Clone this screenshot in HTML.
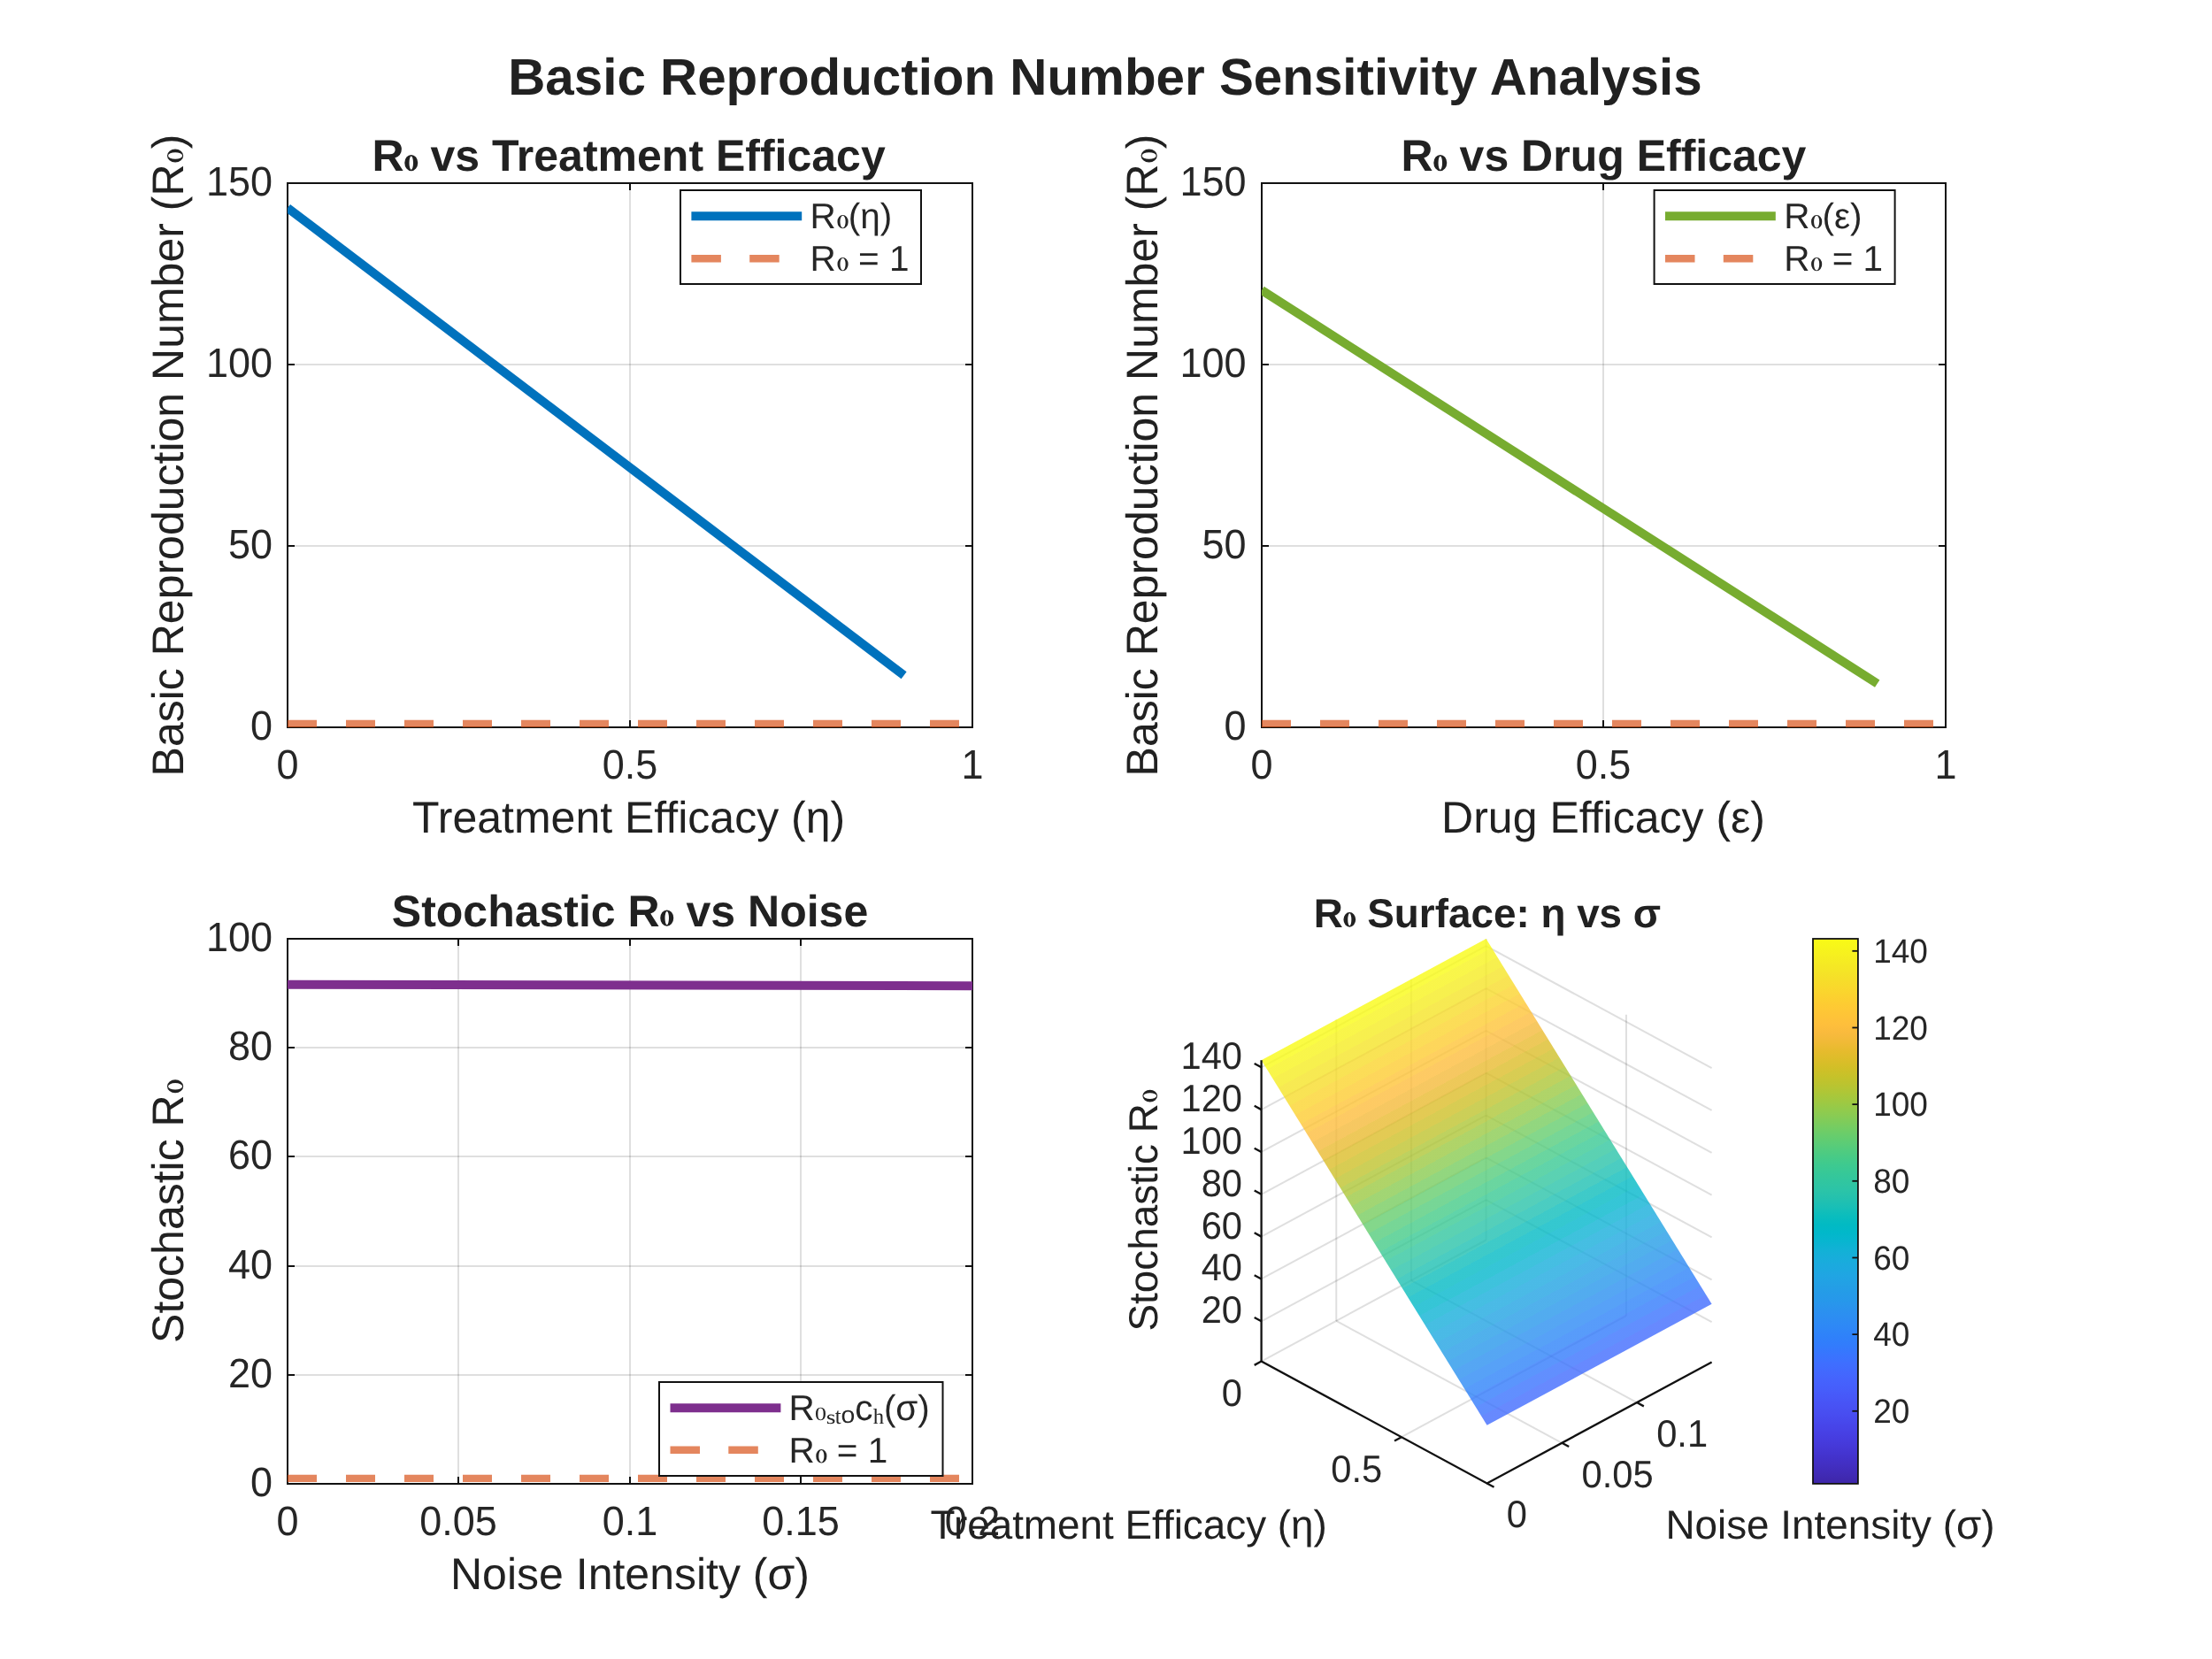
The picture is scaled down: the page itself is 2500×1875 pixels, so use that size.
<!DOCTYPE html>
<html><head><meta charset="utf-8"><title>Basic Reproduction Number Sensitivity Analysis</title>
<style>html,body{margin:0;padding:0;background:#fff}svg{display:block;will-change:transform}</style></head>
<body>
<svg width="2500" height="1875" viewBox="0 0 2500 1875" font-family="'Liberation Sans', sans-serif" text-rendering="geometricPrecision">
<rect width="2500" height="1875" fill="#fff"/>
<defs>
<clipPath id="c1"><rect x="325" y="207" width="774" height="615"/></clipPath>
<clipPath id="c2"><rect x="1426" y="207" width="773" height="615"/></clipPath>
<clipPath id="c3"><rect x="325" y="1061" width="774" height="616"/></clipPath>
<linearGradient id="cb" x1="0" y1="0" x2="0" y2="1"><stop offset="0.0000" stop-color="#f9fb15"/><stop offset="0.0159" stop-color="#f7f51b"/><stop offset="0.0317" stop-color="#f6ef20"/><stop offset="0.0476" stop-color="#f5e924"/><stop offset="0.0635" stop-color="#f5e327"/><stop offset="0.0794" stop-color="#f7dc2a"/><stop offset="0.0952" stop-color="#fad62d"/><stop offset="0.1111" stop-color="#fccf30"/><stop offset="0.1270" stop-color="#fec934"/><stop offset="0.1429" stop-color="#fec338"/><stop offset="0.1587" stop-color="#febe3c"/><stop offset="0.1746" stop-color="#f8ba3d"/><stop offset="0.1905" stop-color="#f0ba36"/><stop offset="0.2063" stop-color="#e6bb2d"/><stop offset="0.2222" stop-color="#dcbd29"/><stop offset="0.2381" stop-color="#d1bf27"/><stop offset="0.2540" stop-color="#c5c22a"/><stop offset="0.2698" stop-color="#b9c431"/><stop offset="0.2857" stop-color="#abc739"/><stop offset="0.3016" stop-color="#9dc943"/><stop offset="0.3175" stop-color="#8fcb4e"/><stop offset="0.3333" stop-color="#81cc59"/><stop offset="0.3492" stop-color="#72cd64"/><stop offset="0.3651" stop-color="#64cd6f"/><stop offset="0.3810" stop-color="#57cc7a"/><stop offset="0.3968" stop-color="#4acb84"/><stop offset="0.4127" stop-color="#3fca8e"/><stop offset="0.4286" stop-color="#37c897"/><stop offset="0.4444" stop-color="#31c69f"/><stop offset="0.4603" stop-color="#2cc4a7"/><stop offset="0.4762" stop-color="#24c1ae"/><stop offset="0.4921" stop-color="#19bfb6"/><stop offset="0.5079" stop-color="#0bbdbd"/><stop offset="0.5238" stop-color="#02bac3"/><stop offset="0.5397" stop-color="#01b8ca"/><stop offset="0.5556" stop-color="#08b5d0"/><stop offset="0.5714" stop-color="#12b1d6"/><stop offset="0.5873" stop-color="#18addb"/><stop offset="0.6032" stop-color="#1ca9df"/><stop offset="0.6190" stop-color="#20a5e3"/><stop offset="0.6349" stop-color="#23a0e5"/><stop offset="0.6508" stop-color="#259be8"/><stop offset="0.6667" stop-color="#2797eb"/><stop offset="0.6825" stop-color="#2b91ef"/><stop offset="0.6984" stop-color="#2d8cf3"/><stop offset="0.7143" stop-color="#2e87f7"/><stop offset="0.7302" stop-color="#2f81fa"/><stop offset="0.7460" stop-color="#327cfc"/><stop offset="0.7619" stop-color="#3875fe"/><stop offset="0.7778" stop-color="#3e6fff"/><stop offset="0.7937" stop-color="#4269fe"/><stop offset="0.8095" stop-color="#4563fd"/><stop offset="0.8254" stop-color="#465efb"/><stop offset="0.8413" stop-color="#4758f8"/><stop offset="0.8571" stop-color="#4852f4"/><stop offset="0.8730" stop-color="#484df0"/><stop offset="0.8889" stop-color="#4747eb"/><stop offset="0.9048" stop-color="#4741e5"/><stop offset="0.9206" stop-color="#463cde"/><stop offset="0.9365" stop-color="#4537d5"/><stop offset="0.9524" stop-color="#4332cb"/><stop offset="0.9683" stop-color="#422ec0"/><stop offset="0.9841" stop-color="#402ab4"/><stop offset="1.0000" stop-color="#3e26a8"/></linearGradient>
</defs>
<g transform="translate(1250.00,107.00)"><text x="-675.84" y="0" font-size="58.33" font-weight="bold" fill="#212121" xml:space="preserve">Basic Reproduction Number Sensitivity Analysis</text></g>
<rect x="325" y="207" width="774" height="615" fill="#fff"/>
<line x1="712.00" y1="207.00" x2="712.00" y2="822.00" stroke="#262626" stroke-width="2" stroke-opacity="0.15"/>
<line x1="325.00" y1="617.00" x2="1099.00" y2="617.00" stroke="#262626" stroke-width="2" stroke-opacity="0.15"/>
<line x1="325.00" y1="412.00" x2="1099.00" y2="412.00" stroke="#262626" stroke-width="2" stroke-opacity="0.15"/>
<rect x="325" y="207" width="774" height="615" fill="none" stroke="#111111" stroke-width="2"/>
<line x1="712.00" y1="822.00" x2="712.00" y2="814.00" stroke="#111111" stroke-width="2"/>
<line x1="712.00" y1="207.00" x2="712.00" y2="215.00" stroke="#111111" stroke-width="2"/>
<line x1="325.00" y1="617.00" x2="333.00" y2="617.00" stroke="#111111" stroke-width="2"/>
<line x1="1099.00" y1="617.00" x2="1091.00" y2="617.00" stroke="#111111" stroke-width="2"/>
<line x1="325.00" y1="412.00" x2="333.00" y2="412.00" stroke="#111111" stroke-width="2"/>
<line x1="1099.00" y1="412.00" x2="1091.00" y2="412.00" stroke="#111111" stroke-width="2"/>
<line x1="325.00" y1="234.88" x2="1021.60" y2="763.29" stroke="#0072bd" stroke-width="10" clip-path="url(#c1)"/>
<line x1="325" y1="817.90" x2="1099" y2="817.90" stroke="#d95319" stroke-width="8.4" stroke-opacity="0.7" stroke-dasharray="33 33" clip-path="url(#c1)"/>
<g transform="translate(325.00,879.60) scale(1,1.035)"><text x="-12.51" y="0" font-size="45.00" fill="#262626" xml:space="preserve">0</text></g>
<g transform="translate(712.00,879.60) scale(1,1.035)"><text x="-31.28" y="0" font-size="45.00" fill="#262626" xml:space="preserve">0.5</text></g>
<g transform="translate(1099.00,879.60) scale(1,1.035)"><text x="-12.51" y="0" font-size="45.00" fill="#262626" xml:space="preserve">1</text></g>
<g transform="translate(308.00,836.40) scale(1,1.035)"><text x="-25.03" y="0" font-size="45.00" fill="#262626" xml:space="preserve">0</text></g>
<g transform="translate(308.00,631.40) scale(1,1.035)"><text x="-50.05" y="0" font-size="45.00" fill="#262626" xml:space="preserve">50</text></g>
<g transform="translate(308.00,426.40) scale(1,1.035)"><text x="-75.08" y="0" font-size="45.00" fill="#262626" xml:space="preserve">100</text></g>
<g transform="translate(308.00,221.40) scale(1,1.035)"><text x="-75.08" y="0" font-size="45.00" fill="#262626" xml:space="preserve">150</text></g>
<g transform="translate(712.00,941.00)"><text x="-245.90" y="0" font-size="50.00" fill="#212121" xml:space="preserve">Treatment Efficacy (η)</text></g>
<g transform="translate(207.00,514.50) rotate(-90)"><text x="-362.92" y="0" font-size="50.00" fill="#212121" xml:space="preserve">Basic Reproduction Number (R</text><path d="M331.02,-8.93A7.50,9.12 0 1,1 346.02,-8.93A7.50,9.12 0 1,1 331.02,-8.93ZM334.77,-8.93A3.75,8.03 0 1,0 342.27,-8.93A3.75,8.03 0 1,0 334.77,-8.93Z" fill="#212121"/><text x="346.27" y="0" font-size="50.00" fill="#212121" xml:space="preserve">)</text></g>
<g transform="translate(712.00,193.00)"><text x="-291.45" y="0" font-size="50.00" font-weight="bold" fill="#212121" xml:space="preserve">R</text><path d="M-254.74,-8.93A7.50,9.12 0 1,1 -239.74,-8.93A7.50,9.12 0 1,1 -254.74,-8.93ZM-249.49,-8.93A2.25,7.62 0 1,0 -244.99,-8.93A2.25,7.62 0 1,0 -249.49,-8.93Z" fill="#212121"/><text x="-239.34" y="0" font-size="50.00" font-weight="bold" fill="#212121" xml:space="preserve"> vs Treatment Efficacy</text></g>
<rect x="769" y="215" width="272" height="106" fill="#fff" stroke="#111111" stroke-width="2"/>
<line x1="781.40" y1="244.20" x2="906.20" y2="244.20" stroke="#0072bd" stroke-width="10.0"/>
<g transform="translate(915.60,257.80)"><text x="0.00" y="0" font-size="40.50" fill="#262626" xml:space="preserve">R</text><path d="M30.87,-7.23A6.08,7.39 0 1,1 43.02,-7.23A6.08,7.39 0 1,1 30.87,-7.23ZM33.91,-7.23A3.04,6.50 0 1,0 39.98,-7.23A3.04,6.50 0 1,0 33.91,-7.23Z" fill="#262626"/><text x="43.22" y="0" font-size="40.50" fill="#262626" xml:space="preserve">(η)</text></g>
<line x1="781.4" y1="292.2" x2="906.2" y2="292.2" stroke="#d95319" stroke-width="8.4" stroke-opacity="0.7" stroke-dasharray="33.5 32.3"/>
<g transform="translate(915.60,305.80)"><text x="0.00" y="0" font-size="40.50" fill="#262626" xml:space="preserve">R</text><path d="M30.87,-7.23A6.08,7.39 0 1,1 43.02,-7.23A6.08,7.39 0 1,1 30.87,-7.23ZM33.91,-7.23A3.04,6.50 0 1,0 39.98,-7.23A3.04,6.50 0 1,0 33.91,-7.23Z" fill="#262626"/><text x="43.22" y="0" font-size="40.50" fill="#262626" xml:space="preserve"> = 1</text></g>
<rect x="1426" y="207" width="773" height="615" fill="#fff"/>
<line x1="1812.00" y1="207.00" x2="1812.00" y2="822.00" stroke="#262626" stroke-width="2" stroke-opacity="0.15"/>
<line x1="1426.00" y1="617.00" x2="2199.00" y2="617.00" stroke="#262626" stroke-width="2" stroke-opacity="0.15"/>
<line x1="1426.00" y1="412.00" x2="2199.00" y2="412.00" stroke="#262626" stroke-width="2" stroke-opacity="0.15"/>
<rect x="1426" y="207" width="773" height="615" fill="none" stroke="#111111" stroke-width="2"/>
<line x1="1812.00" y1="822.00" x2="1812.00" y2="814.00" stroke="#111111" stroke-width="2"/>
<line x1="1812.00" y1="207.00" x2="1812.00" y2="215.00" stroke="#111111" stroke-width="2"/>
<line x1="1426.00" y1="617.00" x2="1434.00" y2="617.00" stroke="#111111" stroke-width="2"/>
<line x1="2199.00" y1="617.00" x2="2191.00" y2="617.00" stroke="#111111" stroke-width="2"/>
<line x1="1426.00" y1="412.00" x2="1434.00" y2="412.00" stroke="#111111" stroke-width="2"/>
<line x1="2199.00" y1="412.00" x2="2191.00" y2="412.00" stroke="#111111" stroke-width="2"/>
<line x1="1426.00" y1="327.95" x2="2121.70" y2="772.60" stroke="#77ac30" stroke-width="10" clip-path="url(#c2)"/>
<line x1="1426" y1="817.90" x2="2199" y2="817.90" stroke="#d95319" stroke-width="8.4" stroke-opacity="0.7" stroke-dasharray="33 33" clip-path="url(#c2)"/>
<g transform="translate(1426.00,879.60) scale(1,1.035)"><text x="-12.51" y="0" font-size="45.00" fill="#262626" xml:space="preserve">0</text></g>
<g transform="translate(1812.00,879.60) scale(1,1.035)"><text x="-31.28" y="0" font-size="45.00" fill="#262626" xml:space="preserve">0.5</text></g>
<g transform="translate(2199.00,879.60) scale(1,1.035)"><text x="-12.51" y="0" font-size="45.00" fill="#262626" xml:space="preserve">1</text></g>
<g transform="translate(1408.60,836.40) scale(1,1.035)"><text x="-25.03" y="0" font-size="45.00" fill="#262626" xml:space="preserve">0</text></g>
<g transform="translate(1408.60,631.40) scale(1,1.035)"><text x="-50.05" y="0" font-size="45.00" fill="#262626" xml:space="preserve">50</text></g>
<g transform="translate(1408.60,426.40) scale(1,1.035)"><text x="-75.08" y="0" font-size="45.00" fill="#262626" xml:space="preserve">100</text></g>
<g transform="translate(1408.60,221.40) scale(1,1.035)"><text x="-75.08" y="0" font-size="45.00" fill="#262626" xml:space="preserve">150</text></g>
<g transform="translate(1812.50,941.00)"><text x="-183.40" y="0" font-size="50.00" fill="#212121" xml:space="preserve">Drug Efficacy (ε)</text></g>
<g transform="translate(1307.60,514.50) rotate(-90)"><text x="-362.92" y="0" font-size="50.00" fill="#212121" xml:space="preserve">Basic Reproduction Number (R</text><path d="M331.02,-8.93A7.50,9.12 0 1,1 346.02,-8.93A7.50,9.12 0 1,1 331.02,-8.93ZM334.77,-8.93A3.75,8.03 0 1,0 342.27,-8.93A3.75,8.03 0 1,0 334.77,-8.93Z" fill="#212121"/><text x="346.27" y="0" font-size="50.00" fill="#212121" xml:space="preserve">)</text></g>
<g transform="translate(1812.50,193.00)"><text x="-228.91" y="0" font-size="50.00" font-weight="bold" fill="#212121" xml:space="preserve">R</text><path d="M-192.20,-8.93A7.50,9.12 0 1,1 -177.20,-8.93A7.50,9.12 0 1,1 -192.20,-8.93ZM-186.95,-8.93A2.25,7.62 0 1,0 -182.45,-8.93A2.25,7.62 0 1,0 -186.95,-8.93Z" fill="#212121"/><text x="-176.80" y="0" font-size="50.00" font-weight="bold" fill="#212121" xml:space="preserve"> vs Drug Efficacy</text></g>
<rect x="1869.6" y="215" width="272.0" height="106" fill="#fff" stroke="#111111" stroke-width="2"/>
<line x1="1882.00" y1="244.20" x2="2006.80" y2="244.20" stroke="#77ac30" stroke-width="10.0"/>
<g transform="translate(2016.20,257.80)"><text x="0.00" y="0" font-size="40.50" fill="#262626" xml:space="preserve">R</text><path d="M30.87,-7.23A6.08,7.39 0 1,1 43.02,-7.23A6.08,7.39 0 1,1 30.87,-7.23ZM33.91,-7.23A3.04,6.50 0 1,0 39.98,-7.23A3.04,6.50 0 1,0 33.91,-7.23Z" fill="#262626"/><text x="43.22" y="0" font-size="40.50" fill="#262626" xml:space="preserve">(ε)</text></g>
<line x1="1882.0" y1="292.2" x2="2006.8" y2="292.2" stroke="#d95319" stroke-width="8.4" stroke-opacity="0.7" stroke-dasharray="33.5 32.3"/>
<g transform="translate(2016.20,305.80)"><text x="0.00" y="0" font-size="40.50" fill="#262626" xml:space="preserve">R</text><path d="M30.87,-7.23A6.08,7.39 0 1,1 43.02,-7.23A6.08,7.39 0 1,1 30.87,-7.23ZM33.91,-7.23A3.04,6.50 0 1,0 39.98,-7.23A3.04,6.50 0 1,0 33.91,-7.23Z" fill="#262626"/><text x="43.22" y="0" font-size="40.50" fill="#262626" xml:space="preserve"> = 1</text></g>
<rect x="325" y="1061" width="774" height="616" fill="#fff"/>
<line x1="518.00" y1="1061.00" x2="518.00" y2="1677.00" stroke="#262626" stroke-width="2" stroke-opacity="0.15"/>
<line x1="712.00" y1="1061.00" x2="712.00" y2="1677.00" stroke="#262626" stroke-width="2" stroke-opacity="0.15"/>
<line x1="905.00" y1="1061.00" x2="905.00" y2="1677.00" stroke="#262626" stroke-width="2" stroke-opacity="0.15"/>
<line x1="325.00" y1="1554.00" x2="1099.00" y2="1554.00" stroke="#262626" stroke-width="2" stroke-opacity="0.15"/>
<line x1="325.00" y1="1431.00" x2="1099.00" y2="1431.00" stroke="#262626" stroke-width="2" stroke-opacity="0.15"/>
<line x1="325.00" y1="1307.00" x2="1099.00" y2="1307.00" stroke="#262626" stroke-width="2" stroke-opacity="0.15"/>
<line x1="325.00" y1="1184.00" x2="1099.00" y2="1184.00" stroke="#262626" stroke-width="2" stroke-opacity="0.15"/>
<rect x="325" y="1061" width="774" height="616" fill="none" stroke="#111111" stroke-width="2"/>
<line x1="518.00" y1="1677.00" x2="518.00" y2="1669.00" stroke="#111111" stroke-width="2"/>
<line x1="518.00" y1="1061.00" x2="518.00" y2="1069.00" stroke="#111111" stroke-width="2"/>
<line x1="712.00" y1="1677.00" x2="712.00" y2="1669.00" stroke="#111111" stroke-width="2"/>
<line x1="712.00" y1="1061.00" x2="712.00" y2="1069.00" stroke="#111111" stroke-width="2"/>
<line x1="905.00" y1="1677.00" x2="905.00" y2="1669.00" stroke="#111111" stroke-width="2"/>
<line x1="905.00" y1="1061.00" x2="905.00" y2="1069.00" stroke="#111111" stroke-width="2"/>
<line x1="325.00" y1="1554.00" x2="333.00" y2="1554.00" stroke="#111111" stroke-width="2"/>
<line x1="1099.00" y1="1554.00" x2="1091.00" y2="1554.00" stroke="#111111" stroke-width="2"/>
<line x1="325.00" y1="1431.00" x2="333.00" y2="1431.00" stroke="#111111" stroke-width="2"/>
<line x1="1099.00" y1="1431.00" x2="1091.00" y2="1431.00" stroke="#111111" stroke-width="2"/>
<line x1="325.00" y1="1307.00" x2="333.00" y2="1307.00" stroke="#111111" stroke-width="2"/>
<line x1="1099.00" y1="1307.00" x2="1091.00" y2="1307.00" stroke="#111111" stroke-width="2"/>
<line x1="325.00" y1="1184.00" x2="333.00" y2="1184.00" stroke="#111111" stroke-width="2"/>
<line x1="1099.00" y1="1184.00" x2="1091.00" y2="1184.00" stroke="#111111" stroke-width="2"/>
<line x1="325.00" y1="1112.74" x2="1099.00" y2="1114.28" stroke="#7e2f8e" stroke-width="10" clip-path="url(#c3)"/>
<line x1="325" y1="1670.84" x2="1099" y2="1670.84" stroke="#d95319" stroke-width="8.4" stroke-opacity="0.7" stroke-dasharray="33 33" clip-path="url(#c3)"/>
<g transform="translate(325.00,1735.00) scale(1,1.035)"><text x="-12.51" y="0" font-size="45.00" fill="#262626" xml:space="preserve">0</text></g>
<g transform="translate(518.00,1735.00) scale(1,1.035)"><text x="-43.79" y="0" font-size="45.00" fill="#262626" xml:space="preserve">0.05</text></g>
<g transform="translate(712.00,1735.00) scale(1,1.035)"><text x="-31.28" y="0" font-size="45.00" fill="#262626" xml:space="preserve">0.1</text></g>
<g transform="translate(905.00,1735.00) scale(1,1.035)"><text x="-43.79" y="0" font-size="45.00" fill="#262626" xml:space="preserve">0.15</text></g>
<g transform="translate(1099.00,1735.00) scale(1,1.035)"><text x="-31.28" y="0" font-size="45.00" fill="#262626" xml:space="preserve">0.2</text></g>
<g transform="translate(308.00,1691.40) scale(1,1.035)"><text x="-25.03" y="0" font-size="45.00" fill="#262626" xml:space="preserve">0</text></g>
<g transform="translate(308.00,1568.40) scale(1,1.035)"><text x="-50.05" y="0" font-size="45.00" fill="#262626" xml:space="preserve">20</text></g>
<g transform="translate(308.00,1445.40) scale(1,1.035)"><text x="-50.05" y="0" font-size="45.00" fill="#262626" xml:space="preserve">40</text></g>
<g transform="translate(308.00,1321.40) scale(1,1.035)"><text x="-50.05" y="0" font-size="45.00" fill="#262626" xml:space="preserve">60</text></g>
<g transform="translate(308.00,1198.40) scale(1,1.035)"><text x="-50.05" y="0" font-size="45.00" fill="#262626" xml:space="preserve">80</text></g>
<g transform="translate(308.00,1075.40) scale(1,1.035)"><text x="-75.08" y="0" font-size="45.00" fill="#262626" xml:space="preserve">100</text></g>
<g transform="translate(712.00,1796.00)"><text x="-202.99" y="0" font-size="50.00" fill="#212121" xml:space="preserve">Noise Intensity (σ)</text></g>
<g transform="translate(207.00,1369.00) rotate(-90)"><text x="-148.96" y="0" font-size="50.00" fill="#212121" xml:space="preserve">Stochastic R</text><path d="M133.71,-8.93A7.50,9.12 0 1,1 148.71,-8.93A7.50,9.12 0 1,1 133.71,-8.93ZM137.46,-8.93A3.75,8.03 0 1,0 144.96,-8.93A3.75,8.03 0 1,0 137.46,-8.93Z" fill="#212121"/></g>
<g transform="translate(712.00,1046.50)"><text x="-269.21" y="0" font-size="50.00" font-weight="bold" fill="#212121" xml:space="preserve">Stochastic R</text><path d="M34.25,-8.93A7.50,9.12 0 1,1 49.25,-8.93A7.50,9.12 0 1,1 34.25,-8.93ZM39.50,-8.93A2.25,7.62 0 1,0 44.00,-8.93A2.25,7.62 0 1,0 39.50,-8.93Z" fill="#212121"/><text x="49.65" y="0" font-size="50.00" font-weight="bold" fill="#212121" xml:space="preserve"> vs Noise</text></g>
<rect x="745" y="1562" width="320.5" height="106" fill="#fff" stroke="#111111" stroke-width="2"/>
<line x1="757.50" y1="1591.30" x2="882.40" y2="1591.30" stroke="#7e2f8e" stroke-width="10.0"/>
<text x="891.40" y="1605.1" font-size="40.5" fill="#262626">R</text><text transform="translate(921.01,1604.99) scale(0.2595,0.2149)" font-size="100.0" font-family="'Liberation Serif', serif" fill="#262626">0</text><text transform="translate(933.87,1608.88) scale(0.2756,0.2204)" font-size="100.0" font-family="'Liberation Serif', serif" fill="#262626">s</text><text transform="translate(943.76,1608.84) scale(0.2479,0.2636)" font-size="100.0" font-family="'Liberation Serif', serif" fill="#262626">t</text><text transform="translate(950.51,1607.54) scale(0.2838,0.2665)" font-size="100.0" font-family="'Liberation Sans', serif" fill="#262626">o</text><text x="966.30" y="1605.1" font-size="40.5" fill="#262626">c</text><text transform="translate(986.86,1609.10) scale(0.2474,0.2465)" font-size="100.0" font-family="'Liberation Serif', serif" fill="#262626">h</text><text x="998.89" y="1605.1" font-size="40.5" fill="#262626">(σ)</text>
<line x1="757.5" y1="1638.8" x2="882.4" y2="1638.8" stroke="#d95319" stroke-width="8.4" stroke-opacity="0.7" stroke-dasharray="33.5 32.3"/>
<g transform="translate(891.40,1653.00)"><text x="0.00" y="0" font-size="40.50" fill="#262626" xml:space="preserve">R</text><path d="M30.87,-7.23A6.08,7.39 0 1,1 43.02,-7.23A6.08,7.39 0 1,1 30.87,-7.23ZM33.91,-7.23A3.04,6.50 0 1,0 39.98,-7.23A3.04,6.50 0 1,0 33.91,-7.23Z" fill="#262626"/><text x="43.22" y="0" font-size="40.50" fill="#262626" xml:space="preserve"> = 1</text></g>
<line x1="1425.60" y1="1493.30" x2="1679.60" y2="1356.20" stroke="#262626" stroke-width="2" stroke-opacity="0.15"/>
<line x1="1679.60" y1="1356.20" x2="1934.60" y2="1494.10" stroke="#262626" stroke-width="2" stroke-opacity="0.15"/>
<line x1="1425.60" y1="1445.47" x2="1679.60" y2="1308.37" stroke="#262626" stroke-width="2" stroke-opacity="0.15"/>
<line x1="1679.60" y1="1308.37" x2="1934.60" y2="1446.27" stroke="#262626" stroke-width="2" stroke-opacity="0.15"/>
<line x1="1425.60" y1="1397.63" x2="1679.60" y2="1260.53" stroke="#262626" stroke-width="2" stroke-opacity="0.15"/>
<line x1="1679.60" y1="1260.53" x2="1934.60" y2="1398.43" stroke="#262626" stroke-width="2" stroke-opacity="0.15"/>
<line x1="1425.60" y1="1349.80" x2="1679.60" y2="1212.70" stroke="#262626" stroke-width="2" stroke-opacity="0.15"/>
<line x1="1679.60" y1="1212.70" x2="1934.60" y2="1350.60" stroke="#262626" stroke-width="2" stroke-opacity="0.15"/>
<line x1="1425.60" y1="1301.97" x2="1679.60" y2="1164.87" stroke="#262626" stroke-width="2" stroke-opacity="0.15"/>
<line x1="1679.60" y1="1164.87" x2="1934.60" y2="1302.77" stroke="#262626" stroke-width="2" stroke-opacity="0.15"/>
<line x1="1425.60" y1="1254.13" x2="1679.60" y2="1117.03" stroke="#262626" stroke-width="2" stroke-opacity="0.15"/>
<line x1="1679.60" y1="1117.03" x2="1934.60" y2="1254.93" stroke="#262626" stroke-width="2" stroke-opacity="0.15"/>
<line x1="1425.60" y1="1206.30" x2="1679.60" y2="1069.20" stroke="#262626" stroke-width="2" stroke-opacity="0.15"/>
<line x1="1679.60" y1="1069.20" x2="1934.60" y2="1207.10" stroke="#262626" stroke-width="2" stroke-opacity="0.15"/>
<line x1="1510.27" y1="1492.90" x2="1510.27" y2="1152.47" stroke="#262626" stroke-width="2" stroke-opacity="0.15"/>
<line x1="1594.93" y1="1447.20" x2="1594.93" y2="1106.77" stroke="#262626" stroke-width="2" stroke-opacity="0.15"/>
<line x1="1679.60" y1="1401.50" x2="1679.60" y2="1061.07" stroke="#262626" stroke-width="2" stroke-opacity="0.15"/>
<line x1="1837.95" y1="1487.14" x2="1837.95" y2="1146.70" stroke="#262626" stroke-width="2" stroke-opacity="0.15"/>
<line x1="1425.60" y1="1538.60" x2="1679.60" y2="1401.50" stroke="#262626" stroke-width="2" stroke-opacity="0.15"/>
<line x1="1583.95" y1="1624.24" x2="1837.95" y2="1487.14" stroke="#262626" stroke-width="2" stroke-opacity="0.15"/>
<line x1="1510.27" y1="1492.90" x2="1765.27" y2="1630.80" stroke="#262626" stroke-width="2" stroke-opacity="0.15"/>
<line x1="1594.93" y1="1447.20" x2="1849.93" y2="1585.10" stroke="#262626" stroke-width="2" stroke-opacity="0.15"/>
<defs><linearGradient id="sg" gradientUnits="userSpaceOnUse" x1="1425.60" y1="1198.17" x2="1655.64" y2="1624.35"><stop offset="0.0000" stop-color="#f9fb15"/><stop offset="0.0250" stop-color="#f9fb15"/><stop offset="0.0250" stop-color="#f7f31d"/><stop offset="0.0500" stop-color="#f7f31d"/><stop offset="0.0500" stop-color="#f5ec22"/><stop offset="0.0750" stop-color="#f5ec22"/><stop offset="0.0750" stop-color="#f5e427"/><stop offset="0.1000" stop-color="#f5e427"/><stop offset="0.1000" stop-color="#f7dc2a"/><stop offset="0.1250" stop-color="#f7dc2a"/><stop offset="0.1250" stop-color="#fbd42e"/><stop offset="0.1500" stop-color="#fbd42e"/><stop offset="0.1500" stop-color="#fdcc32"/><stop offset="0.1750" stop-color="#fdcc32"/><stop offset="0.1750" stop-color="#fec438"/><stop offset="0.2000" stop-color="#fec438"/><stop offset="0.2000" stop-color="#fdbd3d"/><stop offset="0.2250" stop-color="#fdbd3d"/><stop offset="0.2250" stop-color="#f4ba3a"/><stop offset="0.2500" stop-color="#f4ba3a"/><stop offset="0.2500" stop-color="#e9bb30"/><stop offset="0.2750" stop-color="#e9bb30"/><stop offset="0.2750" stop-color="#dcbd29"/><stop offset="0.3000" stop-color="#dcbd29"/><stop offset="0.3000" stop-color="#cec028"/><stop offset="0.3250" stop-color="#cec028"/><stop offset="0.3250" stop-color="#bfc32e"/><stop offset="0.3500" stop-color="#bfc32e"/><stop offset="0.3500" stop-color="#aec637"/><stop offset="0.3750" stop-color="#aec637"/><stop offset="0.3750" stop-color="#9cc943"/><stop offset="0.4000" stop-color="#9cc943"/><stop offset="0.4000" stop-color="#8acb51"/><stop offset="0.4250" stop-color="#8acb51"/><stop offset="0.4250" stop-color="#77cc5f"/><stop offset="0.4500" stop-color="#77cc5f"/><stop offset="0.4500" stop-color="#65cd6e"/><stop offset="0.4750" stop-color="#65cd6e"/><stop offset="0.4750" stop-color="#55cc7c"/><stop offset="0.5000" stop-color="#55cc7c"/><stop offset="0.5000" stop-color="#45cb88"/><stop offset="0.5250" stop-color="#45cb88"/><stop offset="0.5250" stop-color="#39c994"/><stop offset="0.5500" stop-color="#39c994"/><stop offset="0.5500" stop-color="#32c69f"/><stop offset="0.5750" stop-color="#32c69f"/><stop offset="0.5750" stop-color="#2ac3a9"/><stop offset="0.6000" stop-color="#2ac3a9"/><stop offset="0.6000" stop-color="#1ec0b2"/><stop offset="0.6250" stop-color="#1ec0b2"/><stop offset="0.6250" stop-color="#0ebdbb"/><stop offset="0.6500" stop-color="#0ebdbb"/><stop offset="0.6500" stop-color="#02bac4"/><stop offset="0.6750" stop-color="#02bac4"/><stop offset="0.6750" stop-color="#03b7cc"/><stop offset="0.7000" stop-color="#03b7cc"/><stop offset="0.7000" stop-color="#0eb3d4"/><stop offset="0.7250" stop-color="#0eb3d4"/><stop offset="0.7250" stop-color="#17aedb"/><stop offset="0.7500" stop-color="#17aedb"/><stop offset="0.7500" stop-color="#1da9e0"/><stop offset="0.7750" stop-color="#1da9e0"/><stop offset="0.7750" stop-color="#21a3e3"/><stop offset="0.8000" stop-color="#21a3e3"/><stop offset="0.8000" stop-color="#259de7"/><stop offset="0.8250" stop-color="#259de7"/><stop offset="0.8250" stop-color="#2797eb"/><stop offset="0.8500" stop-color="#2797eb"/><stop offset="0.8500" stop-color="#2b90f0"/><stop offset="0.8750" stop-color="#2b90f0"/><stop offset="0.8750" stop-color="#2d8af5"/><stop offset="0.9000" stop-color="#2d8af5"/><stop offset="0.9000" stop-color="#2e83f9"/><stop offset="0.9250" stop-color="#2e83f9"/><stop offset="0.9250" stop-color="#327bfc"/><stop offset="0.9500" stop-color="#327bfc"/><stop offset="0.9500" stop-color="#3a73fe"/><stop offset="0.9750" stop-color="#3a73fe"/><stop offset="0.9750" stop-color="#416cfe"/><stop offset="1.0000" stop-color="#416cfe"/></linearGradient></defs>
<polygon points="1425.60,1198.17 1679.60,1061.07 1934.60,1473.77 1680.60,1610.87" fill="url(#sg)" fill-opacity="0.8"/>
<polyline points="1425.60,1198.17 1425.60,1538.60 1680.60,1676.50 1934.60,1539.40" fill="none" stroke="#111111" stroke-width="2.3" stroke-linejoin="miter"/>
<line x1="1425.60" y1="1493.30" x2="1417.68" y2="1489.02" stroke="#111111" stroke-width="2.3"/>
<g transform="translate(1404.00,1495.30) scale(1,1.035)"><text x="-46.35" y="0" font-size="41.67" fill="#262626" xml:space="preserve">20</text></g>
<line x1="1425.60" y1="1445.47" x2="1417.68" y2="1441.19" stroke="#111111" stroke-width="2.3"/>
<g transform="translate(1404.00,1447.47) scale(1,1.035)"><text x="-46.35" y="0" font-size="41.67" fill="#262626" xml:space="preserve">40</text></g>
<line x1="1425.60" y1="1397.63" x2="1417.68" y2="1393.35" stroke="#111111" stroke-width="2.3"/>
<g transform="translate(1404.00,1399.63) scale(1,1.035)"><text x="-46.35" y="0" font-size="41.67" fill="#262626" xml:space="preserve">60</text></g>
<line x1="1425.60" y1="1349.80" x2="1417.68" y2="1345.52" stroke="#111111" stroke-width="2.3"/>
<g transform="translate(1404.00,1351.80) scale(1,1.035)"><text x="-46.35" y="0" font-size="41.67" fill="#262626" xml:space="preserve">80</text></g>
<line x1="1425.60" y1="1301.97" x2="1417.68" y2="1297.68" stroke="#111111" stroke-width="2.3"/>
<g transform="translate(1404.00,1303.97) scale(1,1.035)"><text x="-69.52" y="0" font-size="41.67" fill="#262626" xml:space="preserve">100</text></g>
<line x1="1425.60" y1="1254.13" x2="1417.68" y2="1249.85" stroke="#111111" stroke-width="2.3"/>
<g transform="translate(1404.00,1256.13) scale(1,1.035)"><text x="-69.52" y="0" font-size="41.67" fill="#262626" xml:space="preserve">120</text></g>
<line x1="1425.60" y1="1206.30" x2="1417.68" y2="1202.02" stroke="#111111" stroke-width="2.3"/>
<g transform="translate(1404.00,1208.30) scale(1,1.035)"><text x="-69.52" y="0" font-size="41.67" fill="#262626" xml:space="preserve">140</text></g>
<line x1="1425.60" y1="1538.60" x2="1417.68" y2="1542.87" stroke="#111111" stroke-width="2.3"/>
<g transform="translate(1403.88,1588.87) scale(1,1.035)"><text x="-23.17" y="0" font-size="41.67" fill="#262626" xml:space="preserve">0</text></g>
<line x1="1583.95" y1="1624.24" x2="1576.04" y2="1628.51" stroke="#111111" stroke-width="2.3"/>
<g transform="translate(1562.24,1674.51) scale(1,1.035)"><text x="-57.93" y="0" font-size="41.67" fill="#262626" xml:space="preserve">0.5</text></g>
<line x1="1680.60" y1="1676.50" x2="1688.52" y2="1680.78" stroke="#111111" stroke-width="2.3"/>
<g transform="translate(1702.82,1726.48) scale(1,1.035)"><text x="0.00" y="0" font-size="41.67" fill="#262626" xml:space="preserve">0</text></g>
<line x1="1765.27" y1="1630.80" x2="1773.18" y2="1635.08" stroke="#111111" stroke-width="2.3"/>
<g transform="translate(1787.48,1680.78) scale(1,1.035)"><text x="0.00" y="0" font-size="41.67" fill="#262626" xml:space="preserve">0.05</text></g>
<line x1="1849.93" y1="1585.10" x2="1857.85" y2="1589.38" stroke="#111111" stroke-width="2.3"/>
<g transform="translate(1872.15,1635.08) scale(1,1.035)"><text x="0.00" y="0" font-size="41.67" fill="#262626" xml:space="preserve">0.1</text></g>
<g transform="translate(1051.60,1738.80)"><text x="0.00" y="0" font-size="45.83" fill="#212121" xml:space="preserve">Treatment Efficacy (η)</text></g>
<g transform="translate(1882.40,1738.80)"><text x="0.00" y="0" font-size="45.83" fill="#212121" xml:space="preserve">Noise Intensity (σ)</text></g>
<g transform="translate(1307.90,1368.00) rotate(-90)"><text x="-136.53" y="0" font-size="45.83" fill="#212121" xml:space="preserve">Stochastic R</text><path d="M122.56,-8.18A6.87,8.36 0 1,1 136.30,-8.18A6.87,8.36 0 1,1 122.56,-8.18ZM125.99,-8.18A3.44,7.36 0 1,0 132.87,-8.18A3.44,7.36 0 1,0 125.99,-8.18Z" fill="#212121"/></g>
<g transform="translate(1681.00,1047.50)"><text x="-196.20" y="0" font-size="45.83" font-weight="bold" fill="#212121" xml:space="preserve">R</text><path d="M-162.56,-8.18A6.87,8.36 0 1,1 -148.81,-8.18A6.87,8.36 0 1,1 -162.56,-8.18ZM-157.74,-8.18A2.06,6.99 0 1,0 -153.62,-8.18A2.06,6.99 0 1,0 -157.74,-8.18Z" fill="#212121"/><text x="-148.44" y="0" font-size="45.83" font-weight="bold" fill="#212121" xml:space="preserve"> Surface: η vs σ</text></g>
<rect x="2049.0" y="1061.0" width="50.90000000000009" height="615.9000000000001" fill="url(#cb)" stroke="#111111" stroke-width="1.8"/>
<line x1="2099.90" y1="1594.80" x2="2093.40" y2="1594.80" stroke="#111111" stroke-width="1.8"/>
<g transform="translate(2117.20,1607.90) scale(1,1.035)"><text x="0.00" y="0" font-size="37.00" fill="#262626" xml:space="preserve">20</text></g>
<line x1="2099.90" y1="1508.13" x2="2093.40" y2="1508.13" stroke="#111111" stroke-width="1.8"/>
<g transform="translate(2117.20,1521.23) scale(1,1.035)"><text x="0.00" y="0" font-size="37.00" fill="#262626" xml:space="preserve">40</text></g>
<line x1="2099.90" y1="1421.47" x2="2093.40" y2="1421.47" stroke="#111111" stroke-width="1.8"/>
<g transform="translate(2117.20,1434.57) scale(1,1.035)"><text x="0.00" y="0" font-size="37.00" fill="#262626" xml:space="preserve">60</text></g>
<line x1="2099.90" y1="1334.80" x2="2093.40" y2="1334.80" stroke="#111111" stroke-width="1.8"/>
<g transform="translate(2117.20,1347.90) scale(1,1.035)"><text x="0.00" y="0" font-size="37.00" fill="#262626" xml:space="preserve">80</text></g>
<line x1="2099.90" y1="1248.14" x2="2093.40" y2="1248.14" stroke="#111111" stroke-width="1.8"/>
<g transform="translate(2117.20,1261.24) scale(1,1.035)"><text x="0.00" y="0" font-size="37.00" fill="#262626" xml:space="preserve">100</text></g>
<line x1="2099.90" y1="1161.47" x2="2093.40" y2="1161.47" stroke="#111111" stroke-width="1.8"/>
<g transform="translate(2117.20,1174.57) scale(1,1.035)"><text x="0.00" y="0" font-size="37.00" fill="#262626" xml:space="preserve">120</text></g>
<line x1="2099.90" y1="1074.80" x2="2093.40" y2="1074.80" stroke="#111111" stroke-width="1.8"/>
<g transform="translate(2117.20,1087.90) scale(1,1.035)"><text x="0.00" y="0" font-size="37.00" fill="#262626" xml:space="preserve">140</text></g>
</svg>
</body></html>
